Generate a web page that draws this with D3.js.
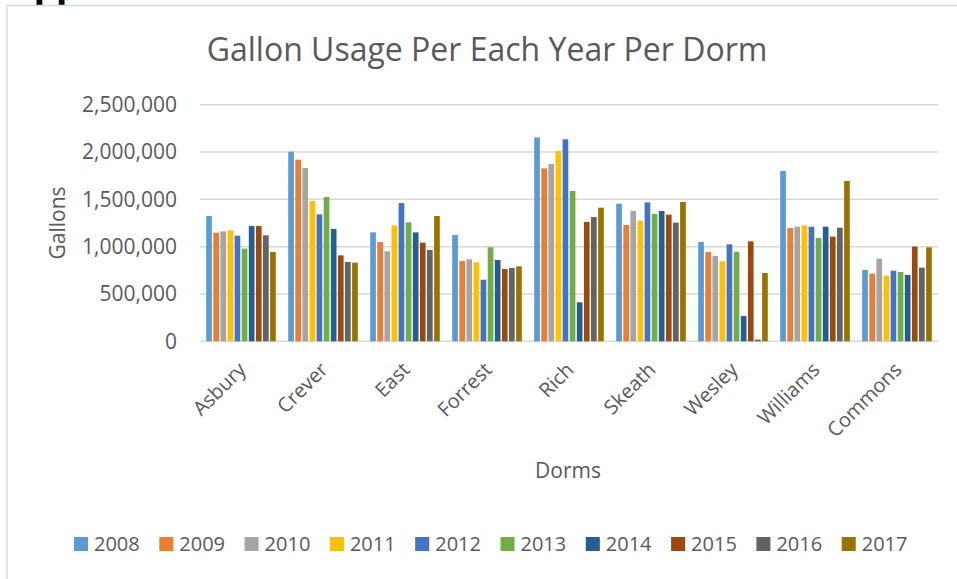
<!DOCTYPE html>
<html>
<head>
<meta charset="utf-8">
<script src="https://cdn.jsdelivr.net/npm/d3@7"></script>
<style>
  body { margin: 0; background: #fff; }
  text { font-family: "Open Sans", sans-serif; fill: #595959; }
</style>
</head>
<body>
<div id="chart"></div>
<script>
// dorm gallons, one array per year
var dorms = ["Asbury", "Crever", "East", "Forrest", "Rich", "Skeath", "Wesley", "Williams", "Commons"];
var years = ["2008", "2009", "2010", "2011", "2012", "2013", "2014", "2015", "2016", "2017"];
var y2008 = [1324000, 2004000, 1151000, 1123000, 2155000, 1454000, 1049000, 1799000, 754000];
var y2009 = [1148000, 1919000, 1049000, 849000, 1827000, 1229000, 944000, 1197000, 715000];
var y2010 = [1162000, 1831000, 951000, 866000, 1873000, 1377000, 901000, 1211000, 873000];
var y2011 = [1173000, 1482000, 1225000, 835000, 2011000, 1275000, 845000, 1225000, 694000];
var y2012 = [1116000, 1342000, 1461000, 651000, 2134000, 1468000, 1025000, 1211000, 746000];
var y2013 = [979000, 1525000, 1257000, 993000, 1588000, 1345000, 947000, 1092000, 732000];
var y2014 = [1218000, 1187000, 1151000, 859000, 412000, 1377000, 268000, 1211000, 701000];
var y2015 = [1218000, 908000, 1042000, 764000, 1261000, 1338000, 1056000, 1106000, 1000000];
var y2016 = [1120000, 838000, 965000, 775000, 1313000, 1254000, 18000, 1201000, 778000];
var y2017 = [944000, 831000, 1324000, 792000, 1412000, 1472000, 722000, 1694000, 993000];
var yTicks = [0, 500000, 1000000, 1500000, 2000000, 2500000];

var series = [y2008, y2009, y2010, y2011, y2012, y2013, y2014, y2015, y2016, y2017];
var colors = ["#5B9BD5", "#ED7D31", "#A5A5A5", "#FFC000", "#4472C4", "#70AD47", "#255E91", "#9E480E", "#636363", "#997300"];

var width = 957, height = 579;

var svg = d3.select("#chart").append("svg")
    .attr("width", width)
    .attr("height", height);

// bit of the document line above the chart (only descenders show)
svg.append("text")
    .attr("x", 5).attr("y", -1)
    .style("font-family", "'Liberation Serif', serif")
    .style("font-size", "40px")
    .style("font-weight", "bold")
    .style("fill", "#000")
    .text("Appendix");

// chart frame
svg.append("rect")
    .attr("x", 7).attr("y", 5.5)
    .attr("width", 1000).attr("height", 700)
    .attr("fill", "#fff")
    .attr("stroke", "#d9d9d9")
    .attr("stroke-width", 1.5);

var x0 = d3.scaleBand()
    .domain(dorms)
    .range([200, 938])
    .paddingInner(0.134)
    .paddingOuter(0.067);

var x1 = d3.scaleBand()
    .domain(years)
    .range([0, x0.bandwidth()])
    .paddingInner(0.2)
    .paddingOuter(0.1);

var y = d3.scaleLinear()
    .domain([0, 2500000])
    .range([341.3, 104.7]);

var color = d3.scaleOrdinal().domain(years).range(colors);

// gridlines
svg.append("g")
  .selectAll("line")
  .data(yTicks)
  .enter().append("line")
    .attr("x1", 200).attr("x2", 938)
    .attr("y1", function(d) { return y(d); })
    .attr("y2", function(d) { return y(d); })
    .attr("stroke", "#d9d9d9")
    .attr("stroke-width", 1.5);

// y tick labels
svg.append("g")
  .selectAll("text")
  .data(yTicks)
  .enter().append("text")
    .attr("x", 177)
    .attr("y", function(d) { return y(d); })
    .attr("dy", "0.35em")
    .attr("text-anchor", "end")
    .style("font-size", "21px")
    .text(function(d) { return d3.format(",")(d); });

// bars
var group = svg.append("g")
  .selectAll("g")
  .data(dorms)
  .enter().append("g")
    .attr("transform", function(d) { return "translate(" + x0(d) + ",0)"; });

group.selectAll("rect")
    .data(function(d, i) {
      return years.map(function(yr, j) { return {year: yr, value: series[j][i]}; });
    })
    .enter().append("rect")
      .attr("x", function(d) { return x1(d.year); })
      .attr("y", function(d) { return y(d.value); })
      .attr("width", x1.bandwidth())
      .attr("height", function(d) { return y(0) - y(d.value); })
      .attr("fill", function(d) { return color(d.year); });

// rotated category labels
svg.append("g")
  .selectAll("text")
  .data(dorms)
  .enter().append("text")
    .attr("text-anchor", "end")
    .style("font-size", "20px")
    .attr("transform", function(d) {
      var cx = x0(d) + x0.bandwidth() / 2 + 6;
      return "translate(" + cx + "," + 371 + ") rotate(-45)";
    })
    .text(function(d) { return d; });

// title
svg.append("text")
    .attr("x", 487).attr("y", 61)
    .attr("text-anchor", "middle")
    .style("font-size", "32px")
    .text("Gallon Usage Per Each Year Per Dorm");

// axis titles
svg.append("text")
    .attr("x", 568).attr("y", 478)
    .attr("text-anchor", "middle")
    .style("font-size", "21px")
    .text("Dorms");

svg.append("text")
    .attr("transform", "translate(65,223) rotate(-90)")
    .attr("text-anchor", "middle")
    .style("font-size", "21px")
    .text("Gallons");

// legend
var legend = svg.append("g")
  .selectAll("g")
  .data(years)
  .enter().append("g")
    .attr("transform", function(d, i) { return "translate(" + (74 + i * 85.3) + ",537)"; });

legend.append("rect")
    .attr("width", 14).attr("height", 14)
    .attr("fill", function(d) { return color(d); });

legend.append("text")
    .attr("x", 20).attr("y", 7)
    .attr("dy", "0.35em")
    .style("font-size", "20px")
    .text(function(d) { return d; });
</script>
</body>
</html>
